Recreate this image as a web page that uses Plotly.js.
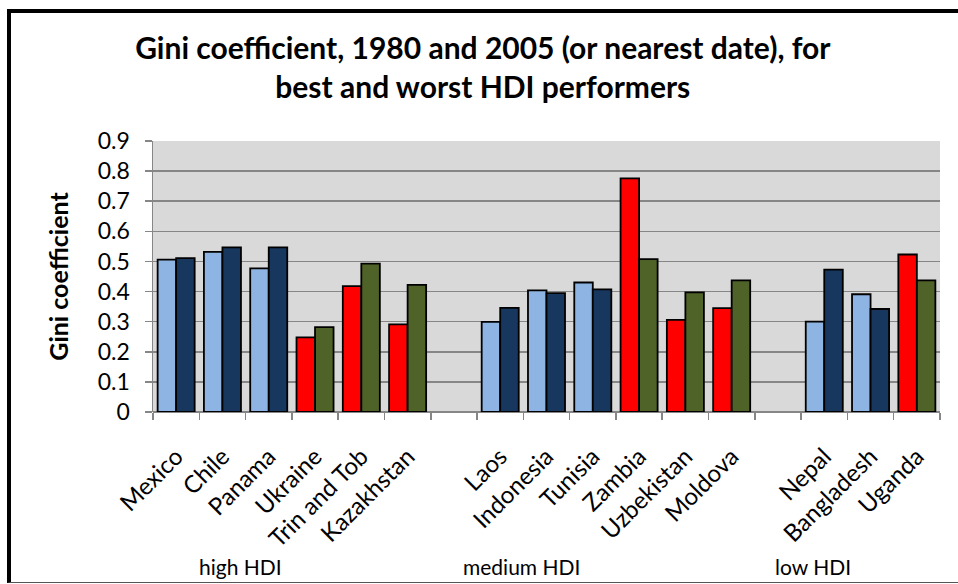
<!DOCTYPE html>
<html>
<head>
<meta charset="utf-8">
<script src="https://cdn.plot.ly/plotly-3.0.1.min.js"></script>
<style>
  html, body { margin: 0; padding: 0; background: #fff; overflow: hidden; }
  #chart { position: absolute; left: 0; top: 0; width: 958px; height: 584px; }
  #frame { position: absolute; left: 7px; top: 9px; width: 1000px; height: 569px;
           border-left: 4px solid #000; border-top: 4px solid #000; border-bottom: 1px solid #555;
           pointer-events: none; }
</style>
</head>
<body>
<div id="chart"></div>
<div id="frame"></div>
<script>
// ---- data ----
const categories = ["Mexico", "Chile", "Panama", "Ukraine", "Trin and Tob", "Kazakhstan", "",
                    "Laos", "Indonesia", "Tunisia", "Zambia", "Uzbekistan", "Moldova", "",
                    "Nepal", "Bangladesh", "Uganda"];
const gini1980 = [0.506, 0.532, 0.477, 0.248, 0.418, 0.291, null,
                  0.299, 0.404, 0.430, 0.776, 0.306, 0.345, null,
                  0.300, 0.391, 0.523];
const gini2005 = [0.511, 0.547, 0.547, 0.282, 0.493, 0.422, null,
                  0.346, 0.395, 0.407, 0.508, 0.397, 0.437, null,
                  0.473, 0.342, 0.437];
// performer type: "best" or "worst"
const performer = ["best", "best", "best", "worst", "worst", "worst", "",
                   "best", "best", "best", "worst", "worst", "worst", "",
                   "best", "best", "worst"];
const groupLabels = ["high HDI", "medium HDI", "low HDI"];
const groupCenters = [1.4, 7.47, 13.75];
const yTicks = [0, 0.1, 0.2, 0.3, 0.4, 0.5, 0.6, 0.7, 0.8, 0.9];

// ---- styling ----
const colors = {
  best1980: "#8EB4E3", best2005: "#17375E",
  worst1980: "#FF0000", worst2005: "#4F6228"
};
const FONT = "Lato, 'Open Sans', sans-serif";

const xpos = categories.map((c, i) => i);
const c1980 = performer.map(p => p === "worst" ? colors.worst1980 : colors.best1980);
const c2005 = performer.map(p => p === "worst" ? colors.worst2005 : colors.best2005);

const traces = [
  { type: "bar", name: "1980", x: xpos, y: gini1980,
    marker: { color: c1980, line: { color: "#000", width: 1.8 } } },
  { type: "bar", name: "2005", x: xpos, y: gini2005,
    marker: { color: c2005, line: { color: "#000", width: 1.8 } } }
];

const tickX = [], tickT = [];
categories.forEach((c, i) => { if (c) { tickX.push(i); tickT.push(c); } });

const layout = {
  width: 958, height: 584,
  margin: { l: 153, r: 18, t: 141, b: 172 },
  paper_bgcolor: "#ffffff",
  plot_bgcolor: "#D9D9D9",
  barmode: "group",
  bargap: 0.2,
  bargroupgap: 0,
  showlegend: false,
  font: { family: FONT, color: "#000" },
  title: {
    text: "<b>Gini coefficient, 1980 and 2005 (or nearest date), for<br>best and worst HDI performers</b>",
    font: { family: FONT, size: 30, color: "#000" },
    xref: "container", x: 0.504, xanchor: "center",
    yref: "container", y: 1 - 59 / 584, yanchor: "middle"
  },
  xaxis: {
    range: [-0.5, categories.length - 0.5],
    tickmode: "array", tickvals: tickX, ticktext: tickT,
    tickangle: -45,
    tickfont: { family: FONT, size: 24, color: "#000" },
    ticks: "outside", ticklen: 20, tickcolor: "rgba(0,0,0,0)",
    showgrid: false, zeroline: false,
    showline: false,
    minor: { tickmode: "linear", tick0: -0.5, dtick: 1, ticks: "outside", ticklen: 7,
             tickcolor: "#868686", tickwidth: 1.5, showgrid: false }
  },
  yaxis: {
    range: [0, 0.9],
    tickmode: "array", tickvals: yTicks,
    ticktext: yTicks.map(v => v === 0 ? "0" : v.toFixed(1)),
    tickfont: { family: FONT, size: 23, color: "#000" },
    ticks: "outside", ticklen: 7, tickcolor: "#868686", tickwidth: 1.5,
    ticklabelstandoff: 10,
    showgrid: true, gridcolor: "#868686", gridwidth: 1.5,
    zeroline: true, zerolinecolor: "#868686", zerolinewidth: 1.5,
    showline: true, linecolor: "#868686", linewidth: 1.5,
    title: { text: "<b>Gini coefficient</b>", font: { family: FONT, size: 25, color: "#000" }, standoff: 22 }
  },
  annotations: groupLabels.map((g, i) => ({
    text: g, x: groupCenters[i], xref: "x", y: (411.7 - 566) / 270.7, yref: "paper",
    xanchor: "center", yanchor: "middle", showarrow: false,
    font: { family: FONT, size: 21, color: "#000" }
  }))
};

Plotly.newPlot("chart", traces, layout, { staticPlot: true, displayModeBar: false });
</script>
</body>
</html>
